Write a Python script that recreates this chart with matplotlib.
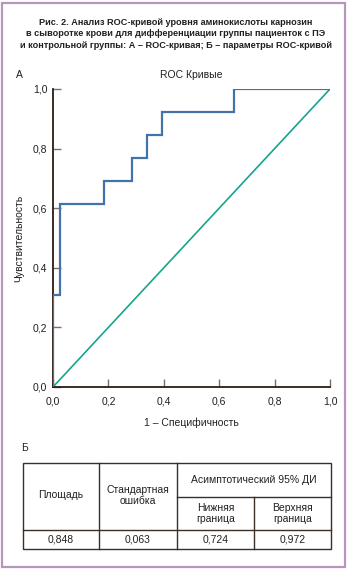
import matplotlib
matplotlib.use("Agg")
import matplotlib.pyplot as plt
from matplotlib.lines import Line2D
from matplotlib.patches import Rectangle

# ---- data ----
fpr = [0.0, 0.0, 0.027, 0.027, 0.183, 0.183, 0.285, 0.285, 0.34, 0.34, 0.392, 0.392, 0.655, 0.655, 1.0]
tpr = [0.0, 0.308, 0.308, 0.615, 0.615, 0.692, 0.692, 0.769, 0.769, 0.846, 0.846, 0.923, 0.923, 1.0, 1.0]
ref_x = [0.0, 1.0]
ref_y = [0.0, 1.0]
ticks = [0.0, 0.2, 0.4, 0.6, 0.8, 1.0]
tick_labels = ["0,0", "0,2", "0,4", "0,6", "0,8", "1,0"]

title_lines = ["Рис. 2. Анализ ROC-кривой уровня аминокислоты карнозин",
               "в сыворотке крови для дифференциации группы пациенток с ПЭ",
               "и контрольной группы: А – ROC-кривая; Б – параметры ROC-кривой"]
table_header = ["Площадь", "Стандартная\nошибка", "Асимптотический 95% ДИ",
                "Нижняя\nграница", "Верхняя\nграница"]
table_values = ["0,848", "0,063", "0,724", "0,972"]

plt.rcParams['font.family'] = ['Liberation Sans', 'DejaVu Sans']

W, H = 350, 570
fig = plt.figure(figsize=(W/100, H/100), dpi=100)
fig.patch.set_facecolor("white")

# overlay axes in pixel coordinates
ov = fig.add_axes([0, 0, 1, 1])
ov.set_xlim(0, W)
ov.set_ylim(H, 0)
ov.axis("off")

frame_c = "#b895bd"
ov.add_patch(Rectangle((1.5, 3), 343.5, 564, fill=False, ec=frame_c, lw=1.6))

# title: fit widest line to target width
renderer = fig.canvas.get_renderer()
probe = ov.text(0, 0, title_lines[2], fontsize=8, fontweight="bold")
w = probe.get_window_extent(renderer).width
probe.remove()
tfs = 8 * 312 / w
for i, ln in enumerate(title_lines):
    ov.text(176, 22.5 + i * 11.5, ln, ha="center", va="center", fontsize=tfs,
            fontweight="bold", color="#231f20")

ov.text(19, 75, "А", ha="center", va="center", fontsize=7.5, color="#231f20")
ov.text(191, 75, "ROC Кривые", ha="center", va="center", fontsize=7.5, color="#231f20")
ov.text(25, 448, "Б", ha="center", va="center", fontsize=7.5, color="#231f20")

# ROC axes
ax = fig.add_axes([53/W, 1-387/H, 277/W, 298/H])
ax.plot(fpr, tpr, color="#4473aa", lw=1.6, solid_joinstyle="miter", zorder=3)
ax.plot(ref_x, ref_y, color="#16a58c", lw=1.2, zorder=2)
ax.set_xlim(0, 1)
ax.set_ylim(0, 1)
for s in ["top", "right"]:
    ax.spines[s].set_visible(False)
for s in ["left", "bottom"]:
    ax.spines[s].set_color("#2a1d12")
    ax.spines[s].set_linewidth(1.3)
ax.set_xticks(ticks)
ax.set_yticks(ticks)
ax.set_xticklabels(tick_labels)
ax.set_yticklabels(tick_labels)
ax.tick_params(direction="in", length=6, width=1.0, color="#7a7068",
               labelsize=7.5, labelcolor="#231f20", pad=4)
ax.tick_params(axis="x", pad=7)
ax.set_xlabel("1 – Специфичность", fontsize=7.5, color="#231f20", labelpad=8)
ax.set_ylabel("Чувствительность", fontsize=7.5, color="#231f20", labelpad=6)
ax.patch.set_alpha(0)

# table
lc = "#3a3028"
x0, x1, x2, x3, x4 = 22.7, 99.3, 176.7, 254, 330.7
y0, y1, y2, y3 = 462.7, 496.7, 530, 549
lw = 1.0
def seg(xa, ya, xb, yb):
    ov.add_line(Line2D([xa, xb], [ya, yb], color=lc, lw=lw))
ov.add_patch(Rectangle((x0, y0), x4-x0, y3-y0, fill=False, ec=lc, lw=lw))
seg(x0, y2, x4, y2)
seg(x2, y1, x4, y1)
seg(x1, y0, x1, y3)
seg(x2, y0, x2, y3)
seg(x3, y1, x3, y3)
fs = 7.5
tc = "#231f20"
ov.text((x0+x1)/2, (y0+y2)/2 - 1, table_header[0], ha="center", va="center", fontsize=fs, color=tc)
ov.text((x1+x2)/2, (y0+y2)/2 - 1, table_header[1], ha="center", va="center", fontsize=fs, color=tc, linespacing=1.1)
ov.text((x2+x4)/2, (y0+y1)/2, table_header[2], ha="center", va="center", fontsize=fs, color=tc)
ov.text((x2+x3)/2, (y1+y2)/2, table_header[3], ha="center", va="center", fontsize=fs, color=tc, linespacing=1.1)
ov.text((x3+x4)/2, (y1+y2)/2, table_header[4], ha="center", va="center", fontsize=fs, color=tc, linespacing=1.1)
cols = [x0, x1, x2, x3, x4]
for i, v in enumerate(table_values):
    ov.text((cols[i]+cols[i+1])/2, (y2+y3)/2, v, ha="center", va="center", fontsize=fs, color=tc)

fig.savefig("out.png", dpi=100)
